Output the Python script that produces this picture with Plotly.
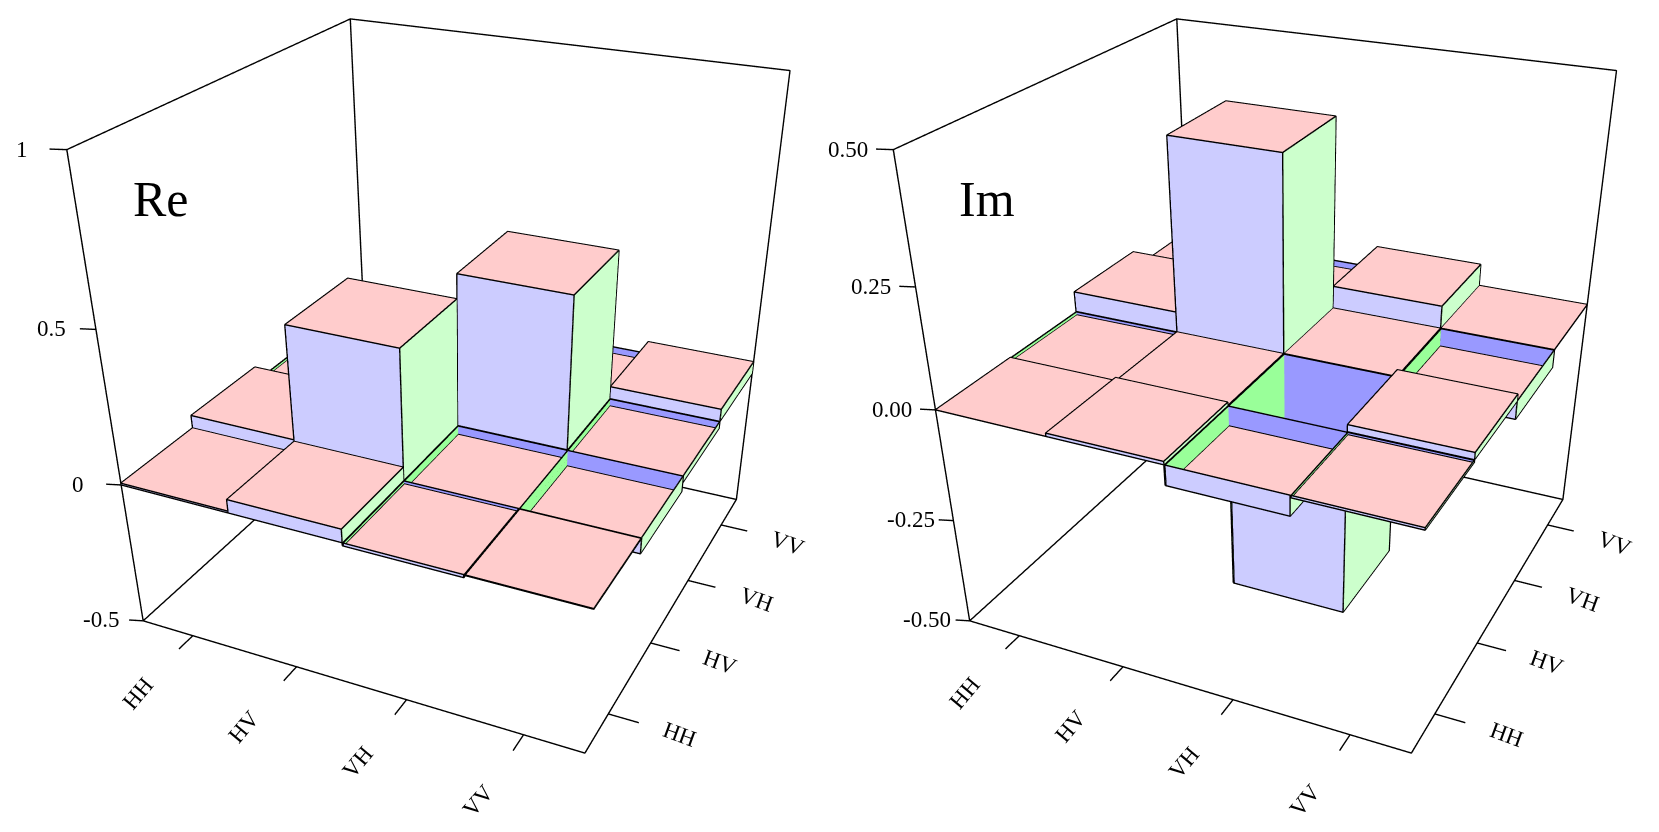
import numpy as np
import plotly.graph_objects as go

LABELS = ["HH", "HV", "VH", "VV"]

# value[i][j]: i runs along x (left to front), j along y (front to back)
RE_VALUES = [
    [0.006, 0.05, -0.01, -0.002],
    [0.045, 0.43, -0.03, -0.055],
    [-0.01, -0.03, 0.51, -0.025],
    [-0.002, -0.055, -0.025, 0.043],
]
IM_VALUES = [
    [0.0, -0.007, 0.045, 0.005],
    [0.007, 0.0, 0.415, -0.015],
    [-0.043, -0.415, 0.0, 0.05],
    [-0.005, 0.015, -0.04, 0.0],
]
RE_TICKS = [-0.5, 0, 0.5, 1]
RE_TICK_TEXT = ["-0.5", "0", "0.5", "1"]
IM_TICKS = [-0.5, -0.25, 0, 0.25, 0.5]
IM_TICK_TEXT = ["-0.50", "-0.25", "0.00", "0.25", "0.50"]

PINK = "#FFCCCC"
LIGHT_BLUE = "#CCCCFF"
LIGHT_GREEN = "#CCFFCC"
DARK_BLUE = "#9999FF"
DARK_GREEN = "#99FF99"
FONT = "Liberation Serif"
LINE = {"color": "black", "width": 2.8}

# plotly's fov is fixed, so the page is larger than the window and the focal
# length comes from the figure height; the overflow gets clipped
FIG_W, FIG_H = 1740, 1185
CENTER_X = 469.45
SCENE_STEP = 826.4
SCENE_HALF = 430
EYE = np.array([1.1554, -2.4319, 1.2859])
CENTER = np.array([0.3832, -0.7665, 0.0])
ASPECT_Y, ASPECT_Z = 1.0077, 1.0007
MARGIN = 0.6
INSET = 0.008
LIFT = 0.001


def wall_range(v, neighbour):
    # only the part of an outer wall that the next cell doesn't sit against
    if neighbour is None:
        return min(0, v), max(0, v)
    if v > 0:
        return max(0, neighbour), v
    return v, min(0, neighbour)


def bar_quads(values, i, j):
    v = values[i][j]
    n = len(values)
    x0, x1, y0, y1 = i, i + 1, j, j + 1
    quads = [([(x0, y0, v), (x1, y0, v), (x1, y1, v), (x0, y1, v)], PINK)]
    lo, hi = wall_range(v, values[i][j - 1] if j > 0 else None)
    if hi > lo:
        quads.append(([(x0, y0, lo), (x1, y0, lo), (x1, y0, hi), (x0, y0, hi)], LIGHT_BLUE))
    lo, hi = wall_range(v, values[i + 1][j] if i < n - 1 else None)
    if hi > lo:
        quads.append(([(x1, y0, lo), (x1, y1, lo), (x1, y1, hi), (x1, y0, hi)], LIGHT_GREEN))
    # inner walls of the pits
    if v < 0:
        quads.append(([(x0, y1 - INSET, 0), (x1, y1 - INSET, 0), (x1, y1 - INSET, v), (x0, y1 - INSET, v)], DARK_BLUE))
        quads.append(([(x0 + INSET, y0, 0), (x0 + INSET, y1, 0), (x0 + INSET, y1, v), (x0 + INSET, y0, v)], DARK_GREEN))
    return quads


def add_matrix(fig, values, ticks, scene):
    zmin, zmax = ticks[0], ticks[-1]
    n = len(values)
    # edges sit a hair towards the camera so the faces don't swallow them
    toward = (EYE - CENTER) / np.linalg.norm(EYE - CENTER) * LIFT
    lift = toward * np.array([n, n / ASPECT_Y, (zmax - zmin) / ASPECT_Z])
    xs, ys, zs, ii, jj, kk, colors = [], [], [], [], [], [], []
    lx, ly, lz = [], [], []
    for i in range(n):
        for j in range(n):
            for corners, color in bar_quads(values, i, j):
                base = len(xs)
                for c in corners:
                    xs.append(c[0])
                    ys.append(c[1])
                    zs.append(c[2])
                ii += [base, base]
                jj += [base + 1, base + 2]
                kk += [base + 2, base + 3]
                colors += [color, color]
                for c in corners + [corners[0]]:
                    lx.append(c[0] + lift[0])
                    ly.append(c[1] + lift[1])
                    lz.append(c[2] + lift[2])
                lx.append(None)
                ly.append(None)
                lz.append(None)
    fig.add_trace(go.Mesh3d(
        x=xs, y=ys, z=zs, i=ii, j=jj, k=kk, facecolor=colors, flatshading=True,
        lighting={"ambient": 1, "diffuse": 0, "specular": 0, "fresnel": 0, "roughness": 1},
        hoverinfo="skip", scene=scene,
    ))
    fig.add_trace(go.Scatter3d(
        x=lx, y=ly, z=lz, mode="lines", line=LINE,
        hoverinfo="skip", scene=scene, showlegend=False,
    ))

    # frame and ticks
    frame = [
        [(0, 0, zmin), (n, 0, zmin), (n, n, zmin), (0, n, zmin), (0, 0, zmin)],
        [(0, 0, zmin), (0, 0, zmax), (0, n, zmax), (n, n, zmax), (n, n, zmin)],
        [(0, n, zmin), (0, n, zmax)],
    ]
    for k in range(n):
        frame.append([(k + 0.5, 0, zmin), (k + 0.5, -0.2, zmin)])
        frame.append([(n, k + 0.5, zmin), (n + 0.25, k + 0.5, zmin)])
    for t in ticks:
        frame.append([(0, 0, t), (-0.115, -0.04, t)])
    fx, fy, fz = [], [], []
    for seg in frame:
        for c in seg:
            fx.append(c[0])
            fy.append(c[1])
            fz.append(c[2])
        fx.append(None)
        fy.append(None)
        fz.append(None)
    fig.add_trace(go.Scatter3d(
        x=fx, y=fy, z=fz, mode="lines", line=LINE,
        hoverinfo="skip", scene=scene, showlegend=False,
    ))


def scene_layout(ticks, tick_text, left, right):
    zmin, zmax = ticks[0], ticks[-1]
    n = len(LABELS)
    zpad = 0.04 * (zmax - zmin)
    hidden = {"visible": False, "showspikes": False}
    notes = []
    for k, label in enumerate(LABELS):
        notes.append({"x": k + 0.5, "y": -0.58, "z": zmin, "text": label, "textangle": -50,
                      "showarrow": False, "xshift": -14, "yshift": -18,
                      "font": {"family": FONT, "size": 23, "color": "black"}})
        notes.append({"x": n + 0.25, "y": k + 0.5, "z": zmin, "text": label, "textangle": 20,
                      "showarrow": False, "xshift": 41, "yshift": -12,
                      "font": {"family": FONT, "size": 23, "color": "black"}})
    for t, text in zip(ticks, tick_text):
        notes.append({"x": -0.115, "y": -0.04, "z": t, "text": text, "showarrow": False,
                      "xanchor": "center", "xshift": -28,
                      "font": {"family": FONT, "size": 23, "color": "black"}})
    grow = (n + 2 * MARGIN) / n
    return {
        "domain": {"x": [left / FIG_W, right / FIG_W], "y": [0, 1]},
        "xaxis": {**hidden, "range": [-MARGIN, n + MARGIN]},
        "yaxis": {**hidden, "range": [-MARGIN, n + MARGIN]},
        "zaxis": {**hidden, "range": [zmin - zpad, zmax + zpad]},
        "aspectmode": "manual",
        "aspectratio": {"x": grow, "y": ASPECT_Y * grow, "z": ASPECT_Z * 1.08},
        "camera": {
            "eye": {"x": EYE[0], "y": EYE[1], "z": EYE[2]},
            "center": {"x": CENTER[0], "y": CENTER[1], "z": CENTER[2]},
            "up": {"x": 0, "y": 0, "z": 1},
        },
        "bgcolor": "rgba(0,0,0,0)",
        "annotations": notes,
    }


def panel_title(text, x):
    return {"text": text, "x": x / FIG_W, "y": 1 - 199 / FIG_H, "xref": "paper", "yref": "paper",
            "xanchor": "center", "yanchor": "middle", "showarrow": False,
            "font": {"family": FONT, "size": 50, "color": "black"}}


fig = go.Figure()
add_matrix(fig, RE_VALUES, RE_TICKS, "scene")
add_matrix(fig, IM_VALUES, IM_TICKS, "scene2")
fig.update_layout(
    width=FIG_W, height=FIG_H, margin={"l": 0, "r": 0, "t": 0, "b": 0},
    paper_bgcolor="white", showlegend=False,
    scene=scene_layout(RE_TICKS, RE_TICK_TEXT, 0, 2 * CENTER_X),
    scene2=scene_layout(IM_TICKS, IM_TICK_TEXT, CENTER_X + SCENE_STEP - SCENE_HALF, CENTER_X + SCENE_STEP + SCENE_HALF),
    annotations=[panel_title("Re", 161), panel_title("Im", 987)],
)
fig.write_html("out.html", config={"displayModeBar": False},
               post_script="document.body.style.margin='0';document.body.style.overflow='hidden';")
